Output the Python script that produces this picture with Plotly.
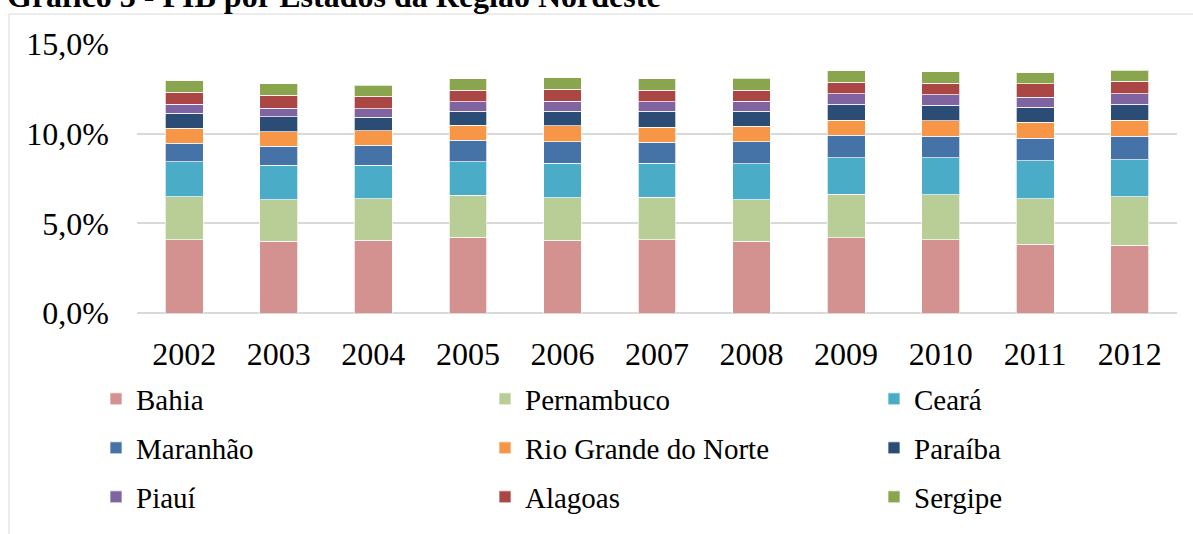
import plotly.graph_objects as go

years = ["2002", "2003", "2004", "2005", "2006", "2007", "2008", "2009", "2010", "2011", "2012"]

# Share of GDP (%) by state
bahia      = [4.09, 4.00, 4.05, 4.22, 4.05, 4.09, 4.00, 4.20, 4.09, 3.83, 3.79]
pernambuco = [2.40, 2.32, 2.31, 2.34, 2.38, 2.36, 2.32, 2.42, 2.51, 2.55, 2.70]
ceara      = [1.95, 1.93, 1.89, 1.88, 1.92, 1.90, 1.99, 2.04, 2.06, 2.11, 2.06]
maranhao   = [1.02, 1.04, 1.10, 1.19, 1.20, 1.17, 1.24, 1.25, 1.21, 1.25, 1.30]
rgn        = [0.84, 0.82, 0.80, 0.83, 0.90, 0.85, 0.86, 0.85, 0.85, 0.89, 0.91]
paraiba    = [0.83, 0.84, 0.76, 0.79, 0.80, 0.88, 0.84, 0.89, 0.86, 0.84, 0.88]
piaui      = [0.52, 0.48, 0.48, 0.52, 0.57, 0.52, 0.57, 0.58, 0.58, 0.57, 0.59]
alagoas    = [0.65, 0.71, 0.69, 0.66, 0.65, 0.65, 0.60, 0.65, 0.65, 0.73, 0.69]
sergipe    = [0.64, 0.63, 0.62, 0.62, 0.65, 0.63, 0.67, 0.63, 0.63, 0.63, 0.63]

states = ["Bahia", "Pernambuco", "Ceará", "Maranhão", "Rio Grande do Norte",
          "Paraíba", "Piauí", "Alagoas", "Sergipe"]
series = [bahia, pernambuco, ceara, maranhao, rgn, paraiba, piaui, alagoas, sergipe]
colors = ["#d39290", "#b9cd96", "#4aacc6", "#4572a7", "#f79646",
          "#2b4c74", "#8064a2", "#aa4643", "#89a54e"]
legend_ids = ["legend", "legend", "legend", "legend2", "legend2", "legend2",
              "legend3", "legend3", "legend3"]

FONT = "Liberation Serif, Times New Roman, serif"

W, H = 1193, 534
L, R, T, B = 137, 16, 44, 221
PW = W - L - R
PH = H - T - B

def px_x(p):
    return (p - L) / PW

def px_y(p):
    return (H - B - p) / PH

fig = go.Figure()
for i, (name, vals, col, lg) in enumerate(zip(states, series, colors, legend_ids)):
    fig.add_trace(go.Bar(
        x=years, y=[v / 100 for v in vals], name=name,
        marker=dict(color=col, line=dict(color="rgba(255,255,255,0.7)", width=1)),
        legend=lg,
        legendwidth=(150 if i % 3 == 2 else 344),
    ))

legend_common = dict(
    orientation="h", xanchor="left", yanchor="middle",
    x=px_x(96), entrywidthmode="pixels",
    font=dict(family=FONT, size=29, color="#000000"),
    traceorder="normal", bgcolor="rgba(0,0,0,0)", itemclick=False,
)

fig.update_layout(
    width=W, height=H,
    margin=dict(l=L, r=R, t=T, b=B, autoexpand=False),
    paper_bgcolor="white", plot_bgcolor="white",
    barmode="stack", bargap=0.6,
    separators=",.",
    font=dict(family=FONT, size=32, color="#000000"),
    legend=dict(legend_common, y=px_y(399)),
    legend2=dict(legend_common, y=px_y(448)),
    legend3=dict(legend_common, y=px_y(497)),
    xaxis=dict(type="category", showgrid=False, showline=False, zeroline=False,
               ticks="", ticklabelstandoff=19, automargin=False,
               tickfont=dict(family=FONT, size=32, color="#000000")),
    yaxis=dict(range=[0, 0.15], tickvals=[0, 0.05, 0.10, 0.15], tickformat=".1%",
               showgrid=True, gridcolor="#d9d9d9", gridwidth=1.5,
               zeroline=True, zerolinecolor="#d9d9d9", zerolinewidth=1.5,
               showline=False, ticks="", ticklabelstandoff=27, automargin=False,
               tickfont=dict(family=FONT, size=32, color="#000000")),
    shapes=[
        dict(type="line", xref="paper", yref="paper",
             x0=px_x(9), x1=px_x(W + 5), y0=px_y(14), y1=px_y(14),
             line=dict(color="#d9d9d9", width=1)),
        dict(type="line", xref="paper", yref="paper",
             x0=px_x(9), x1=px_x(9), y0=px_y(14), y1=px_y(H + 5),
             line=dict(color="#d9d9d9", width=1)),
    ],
    annotations=[
        dict(text="<b>Gráfico 3 - PIB por Estados da Região Nordeste</b>",
             xref="paper", yref="paper", x=px_x(5), y=px_y(16),
             xanchor="left", yanchor="bottom", showarrow=False,
             font=dict(family=FONT, size=32, color="#000000")),
    ],
)

fig.write_html("out.html",
               config={"displayModeBar": False},
               post_script="document.body.style.margin='0px';document.body.style.overflow='hidden';")
